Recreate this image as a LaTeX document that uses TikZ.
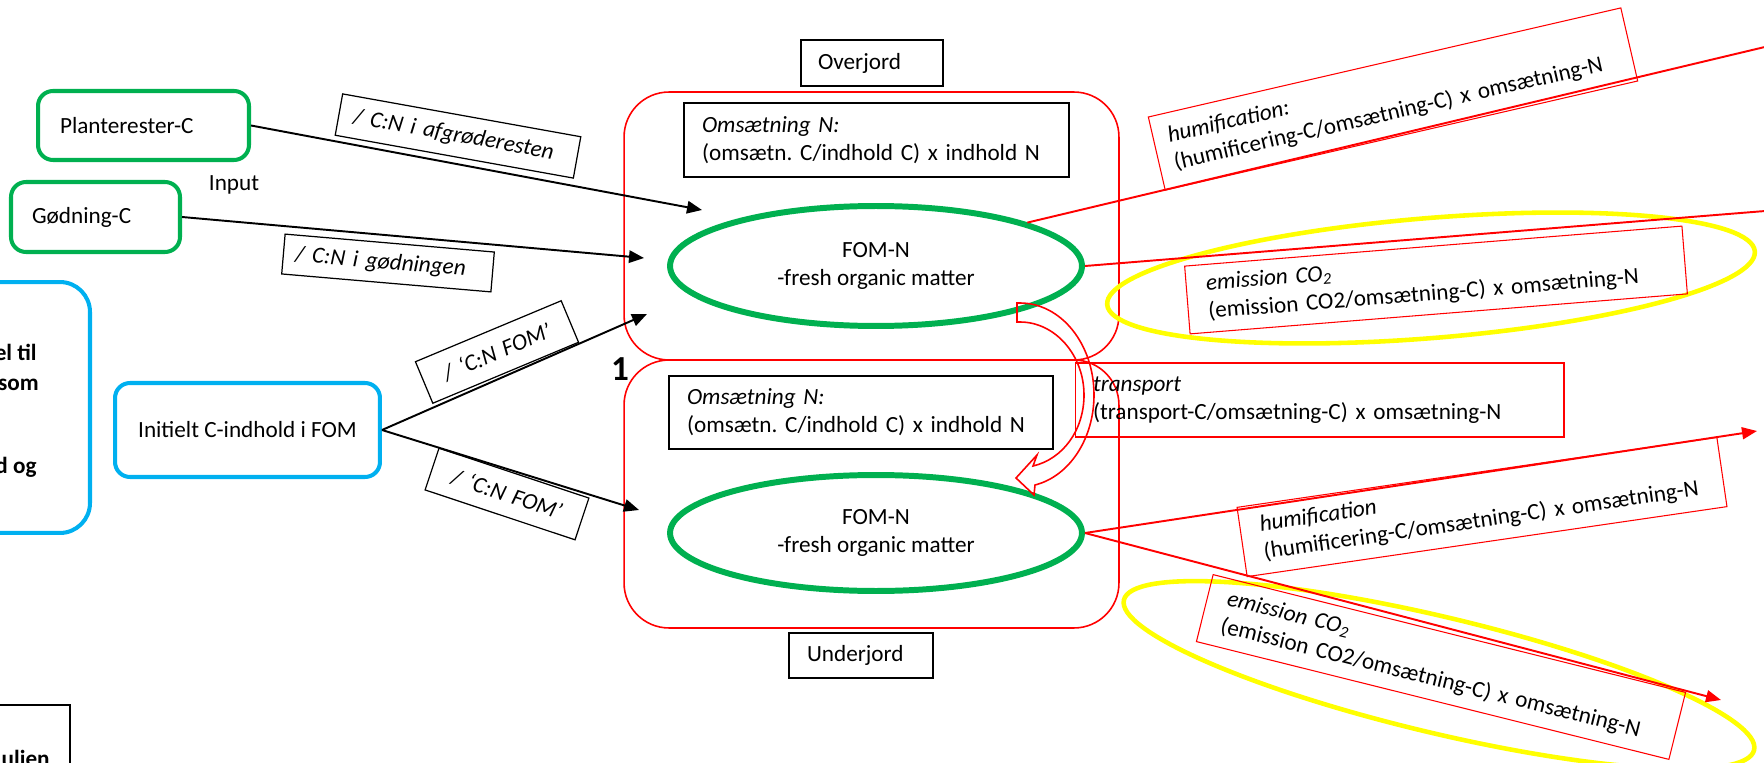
\documentclass[tikz,border=0pt]{standalone}
\usepackage{fontspec}
\setmainfont{Carlito}
\usetikzlibrary{arrows.meta,shapes.geometric}
\frenchspacing

\definecolor{fomgreen}{HTML}{00B050}
\definecolor{initblue}{HTML}{00B0F0}
\definecolor{co2yellow}{HTML}{FFFF00}

\begin{document}
\begin{tikzpicture}[x=0.02cm, y=-0.02cm,
    every node/.style={font=\fontsize{13.2}{16}\selectfont},
    inputbox/.style={draw=fomgreen, line width=2.3pt, rounded corners=0.3cm, align=left},
    initbox/.style={draw=initblue, line width=2.3pt, rounded corners=0.3cm, align=center},
    textbox/.style={draw, line width=0.8pt, align=left},
    notetxt/.style={anchor=base east, inner sep=0pt, font=\fontsize{13.2}{16}\selectfont\bfseries},
    cnbox/.style={draw, line width=0.7pt, align=left, font=\fontsize{13.2}{16}\selectfont\itshape},
    soilbox/.style={draw=red, line width=0.9pt, rounded corners=0.9cm, minimum width=9.9cm, minimum height=5.36cm},
    fom/.style={ellipse, draw=fomgreen, line width=3.4pt, minimum width=8.24cm, minimum height=2.4cm, inner sep=0pt, align=center},
    redtext/.style={draw=red, line width=0.6pt, align=left},
    ring/.style={ellipse, draw=co2yellow, line width=2.6pt},
    inarrow/.style={line width=1.1pt, -{Triangle[length=0.3cm,width=0.25cm]}},
    outarrow/.style={red, line width=1.1pt, -{Triangle[length=0.3cm,width=0.24cm]}}]
    \useasboundingbox (0,0) rectangle (1764,763);
    \clip (0,0) rectangle (1764,763);

    \node[initbox, rounded corners=0.6cm, minimum width=3.8cm, minimum height=5.02cm] (note) at (-5,407.5) {};
    \node[notetxt] (noteA) at (37,360) {el til};
    \node[notetxt] (noteB) at (39,390) {som};
    \node[notetxt] (noteC) at (37,473) {d og};
    \node[textbox, minimum width=3.4cm, minimum height=2cm] (legend) at (-15,755) {};
    \node[notetxt] (legendA) at (50,766) {ulien};

    \node[inputbox, text width=3.34cm, inner xsep=0.44cm, minimum height=1.38cm] (plant) at (143.5,125.5) {Planterester-C};
    \node[inputbox, text width=2.54cm, inner xsep=0.42cm, minimum height=1.4cm] (manure) at (95.5,217) {Gødning-C};
    \node (input) at (234,185) {Input};
    \node[initbox, minimum width=5.3cm, minimum height=1.88cm] (init) at (247.5,430) {Initielt C-indhold i FOM};

    \node[soilbox] (top) at (871.5,226) {};
    \node[soilbox] (sub) at (871.5,494) {};
    \node[textbox, text width=2.16cm, inner xsep=0.34cm, minimum height=0.92cm] (over) at (872,63) {Overjord};
    \node[textbox, text width=2.16cm, inner xsep=0.36cm, minimum height=0.9cm] (under) at (861,655.5) {Underjord};
    \node[textbox, text width=6.98cm, inner xsep=0.36cm, minimum height=1.48cm] (turnTop) at (876.5,140) {\textit{Omsætning N:}\\(omsætn. C/indhold C) x indhold N};
    \node[textbox, text width=6.96cm, inner xsep=0.36cm, minimum height=1.46cm] (turnSub) at (861,412.5) {\textit{Omsætning N:}\\(omsætn. C/indhold C) x indhold N};
    \node[fom] (fomTop) at (876,266) {FOM-N\\-fresh organic matter};
    \node[fom, minimum height=2.32cm] (fomSub) at (876,533) {FOM-N\\-fresh organic matter};
    \node[font=\fontsize{20}{24}\selectfont\bfseries] (one) at (620,369) {1};

    \node[cnbox, rotate=-10.2, text width=4.24cm, inner xsep=0.3cm, minimum height=0.84cm] (cnPlant) at (458,136) {/ C:N i afgrøderesten};
    \node[cnbox, rotate=-4.9, text width=3.72cm, inner xsep=0.24cm, minimum height=0.8cm] (cnManure) at (388,263) {/ C:N i gødningen};
    \node[cnbox, rotate=22.7, text width=2.76cm, inner xsep=0.2cm, minimum height=0.9cm, align=center] (cnTop) at (497,352) {/ ‘C:N FOM’};
    \node[cnbox, rotate=-18.4, text width=2.76cm, inner xsep=0.2cm, minimum height=0.88cm, align=center] (cnSub) at (507,494) {/ ‘C:N FOM’};

    \coordinate (inPlant) at (702,210);
    \coordinate (inManure) at (644,258);
    \coordinate (inTop) at (647,314);
    \coordinate (inSub) at (639,510);
    \draw[inarrow] (plant.east) -- (inPlant);
    \draw[inarrow] (manure.east) -- (inManure);
    \draw[inarrow] (init.east) -- (inTop);
    \draw[inarrow] (init.east) -- (inSub);

    \node[ring, rotate=4.7, minimum width=13cm, minimum height=2.4cm] (ringTop) at (1431,278) {};
    \node[ring, rotate=-13.4, minimum width=12.96cm, minimum height=2.32cm] (ringSub) at (1439,675) {};

    \node[redtext, rotate=13, text width=9.1cm, inner xsep=0.3cm, minimum height=1.5cm] (humTop) at (1393,99) {\textit{humification:}\\(humificering-C/omsætning-C) x omsætning-N};
    \node[redtext, rotate=4.6, text width=9.18cm, inner xsep=0.4cm, minimum height=1.36cm] (co2Top) at (1436,280) {\textit{emission CO\textsubscript{2}}\\(emission CO2/omsætning-C) x omsætning-N};
    \node[redtext, text width=9.06cm, inner xsep=0.36cm, minimum height=1.48cm] (trans) at (1319.5,400) {\textit{transport}\\(transport-C/omsætning-C) x omsætning-N};
    \node[redtext, rotate=8.3, text width=8.9cm, inner xsep=0.4cm, minimum height=1.4cm] (humSub) at (1482,507) {\textit{humification}\\(humificering-C/omsætning-C) x omsætning-N};
    \node[redtext, rotate=-14, text width=8.94cm, inner xsep=0.4cm, minimum height=1.38cm] (co2Sub) at (1441,667) {\textit{emission CO\textsubscript{2}}\\(emission CO2/omsætning-C) x omsætning-N};

    \coordinate (humTopEnd) at (1790,41);
    \coordinate (co2TopEnd) at (1790,209);
    \coordinate (humSubEnd) at (1757,431);
    \coordinate (co2SubEnd) at (1721,700);
    \draw[outarrow] (fomTop.16) -- (humTopEnd);
    \draw[outarrow] (fomTop.east) -- (co2TopEnd);
    \draw[outarrow] (fomSub.east) -- (humSubEnd);
    \draw[outarrow] (fomSub.east) -- (co2SubEnd);

    \draw[red, line width=0.9pt] (1017,303) -- (1020,303)
      .. controls (1061,303) and (1094,344) .. (1094,395)
      .. controls (1094,438) and (1070,476) .. (1035,485)
      -- (1034,495) -- (1016,478) -- (1037,455) -- (1033,466)
      .. controls (1063,459) and (1084,430) .. (1084,395)
      .. controls (1084,355) and (1055,322) .. (1020,322)
      -- (1017,322) -- cycle;
  \end{tikzpicture}
\end{document}
